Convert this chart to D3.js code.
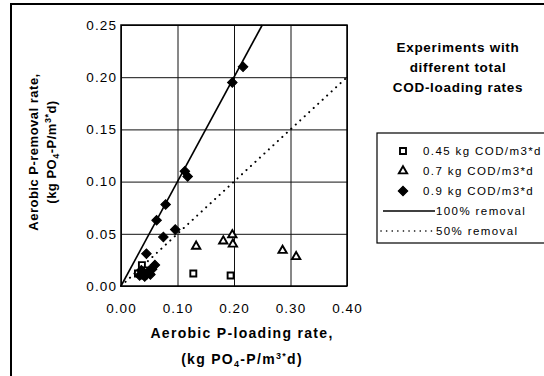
<!DOCTYPE html>
<html>
<head>
<meta charset="utf-8">
<script src="https://cdn.jsdelivr.net/npm/d3@7"></script>
<style>
  body { margin: 0; background: #fff; }
  svg { display: block; }
  text { font-family: "Liberation Sans", Arial, sans-serif; fill: #000; }
  .tick-label { font-size: 13.5px; letter-spacing: 1.1px; }
  .title { font-size: 13.5px; font-weight: bold; letter-spacing: 0.7px; }
  .axis-title { font-size: 14px; font-weight: bold; letter-spacing: 1.3px; }
  .y-title { font-size: 13px; font-weight: bold; letter-spacing: 0.5px; }
  .legend-text { font-size: 11.5px; letter-spacing: 1.4px; }
</style>
</head>
<body>
<div id="chart"></div>
<script>
// series: [P-loading, P-removal]
var cod045 = [[0.037, 0.020], [0.030, 0.012], [0.040, 0.010], [0.046, 0.015],
              [0.128, 0.012], [0.194, 0.010]];
var cod07 = [[0.040, 0.012], [0.050, 0.014], [0.133, 0.038], [0.181, 0.043],
             [0.197, 0.049], [0.198, 0.040], [0.286, 0.034], [0.310, 0.028]];
var cod09 = [[0.033, 0.010], [0.036, 0.015], [0.038, 0.012], [0.042, 0.009],
             [0.047, 0.013], [0.052, 0.011], [0.055, 0.016], [0.060, 0.020],
             [0.045, 0.031], [0.075, 0.047], [0.063, 0.063], [0.079, 0.078],
             [0.096, 0.054], [0.113, 0.110], [0.118, 0.105], [0.197, 0.195],
             [0.216, 0.210]];
var removal100 = [[0, 0], [0.25, 0.25]];
var removal50 = [[0, 0], [0.40, 0.20]];

var xTicks = [0, 0.1, 0.2, 0.3, 0.4];
var yTicks = [0, 0.05, 0.1, 0.15, 0.2, 0.25];
var legendTitle = ["Experiments with", "different total", "COD-loading rates"];
var legendLabels = ["0.45 kg COD/m3*d", "0.7 kg COD/m3*d", "0.9 kg COD/m3*d", "100% removal", "50% removal"];

var width = 544, height = 376;
var margin = {left: 121, top: 25, right: 197, bottom: 90};
var chartWidth = width - margin.left - margin.right;
var chartHeight = height - margin.top - margin.bottom;

var svg = d3.select("#chart").append("svg")
    .attr("width", width)
    .attr("height", height);

// outer frame of the scanned figure
svg.append("rect")
    .attr("x", 11).attr("y", 4)
    .attr("width", 600).attr("height", 400)
    .attr("fill", "none").attr("stroke", "#000").attr("stroke-width", 2);

var chartGroup = svg.append("g")
    .attr("transform", `translate(${margin.left}, ${margin.top})`);

var xScale = d3.scaleLinear().domain([0, 0.4]).range([0, chartWidth]);
var yScale = d3.scaleLinear().domain([0, 0.25]).range([chartHeight, 0]);

// grid
chartGroup.append("g")
    .call(d3.axisBottom(xScale).tickValues(xTicks).tickSize(chartHeight).tickFormat(""))
    .call(g => g.select(".domain").remove())
    .selectAll("line").attr("stroke", "#111").attr("stroke-width", 1);
chartGroup.append("g")
    .attr("transform", `translate(${chartWidth}, 0)`)
    .call(d3.axisLeft(yScale).tickValues(yTicks).tickSize(chartWidth).tickFormat(""))
    .call(g => g.select(".domain").remove())
    .selectAll("line").attr("stroke", "#111").attr("stroke-width", 1);

chartGroup.append("rect")
    .attr("width", chartWidth).attr("height", chartHeight)
    .attr("fill", "none").attr("stroke", "#000").attr("stroke-width", 1.5);

// tick labels
var leftAxis = chartGroup.append("g")
    .call(d3.axisLeft(yScale).tickValues(yTicks).tickSize(0).tickPadding(4).tickFormat(d3.format(".2f")));
var bottomAxis = chartGroup.append("g")
    .attr("transform", `translate(0, ${chartHeight})`)
    .call(d3.axisBottom(xScale).tickValues(xTicks).tickSize(0).tickPadding(17).tickFormat(d3.format(".2f")));
[leftAxis, bottomAxis].forEach(function(ax) {
    ax.select(".domain").remove();
    ax.selectAll("text").attr("class", "tick-label").attr("font-family", null).attr("font-size", null);
    ax.attr("font-family", null).attr("font-size", null);
});

// reference lines
var line = d3.line().x(d => xScale(d[0])).y(d => yScale(d[1]));
chartGroup.append("path").datum(removal100)
    .attr("d", line).attr("fill", "none").attr("stroke", "#000").attr("stroke-width", 1.6);
chartGroup.append("path").datum(removal50)
    .attr("d", line).attr("fill", "none").attr("stroke", "#000").attr("stroke-width", 2)
    .attr("stroke-linecap", "round").attr("stroke-dasharray", "0.1,6");

// markers
var square = d3.symbol().type(d3.symbolSquare).size(36);
var triangle = d3.symbol().type(d3.symbolTriangle).size(30);
var diamond = d3.symbol().type(d3.symbolSquare).size(46);

function drawPoints(data, sym, filled) {
    chartGroup.append("g").selectAll("path")
        .data(data).enter().append("path")
        .attr("transform", d => `translate(${xScale(d[0])}, ${yScale(d[1])})` + (filled ? " rotate(45)" : ""))
        .attr("d", sym)
        .attr("fill", filled ? "#000" : "#fff")
        .attr("stroke", "#000")
        .attr("stroke-width", filled ? 1 : 1.9);
}
drawPoints(cod045, square, false);
drawPoints(cod07, triangle, false);
drawPoints(cod09, diamond, true);

// axis titles
function unitTitle(t) {
    t.append("tspan").text("(kg PO");
    t.append("tspan").attr("font-size", "9px").attr("dy", 3).text("4");
    t.append("tspan").attr("dy", -3).text("-P/m");
    t.append("tspan").attr("font-size", "9px").attr("dy", -5).text("3");
    t.append("tspan").attr("font-size", "9px").text("*");
    t.append("tspan").attr("dy", 5).text("d)");
}
svg.append("text").attr("class", "axis-title")
    .attr("text-anchor", "middle").attr("x", 242).attr("y", 338)
    .text("Aerobic P-loading rate,");
unitTitle(svg.append("text").attr("class", "axis-title")
    .attr("text-anchor", "middle").attr("x", 242).attr("y", 364));

var yTitle = svg.append("g").attr("transform", "translate(38, 152) rotate(-90)");
yTitle.append("text").attr("class", "y-title").attr("text-anchor", "middle").attr("y", 0)
    .text("Aerobic P-removal rate,");
unitTitle(yTitle.append("text").attr("class", "y-title").attr("text-anchor", "middle").attr("y", 18));

// legend
svg.append("g").selectAll("text")
    .data(legendTitle).enter().append("text")
    .attr("class", "title")
    .attr("text-anchor", "middle")
    .attr("x", 458)
    .attr("y", (d, i) => 52 + i * 20)
    .text(d => d);

var legend = svg.append("g");
legend.append("rect")
    .attr("x", 377).attr("y", 133).attr("width", 200).attr("height", 110)
    .attr("fill", "none").attr("stroke", "#000").attr("stroke-width", 1.2);

var rowY = [151, 171, 191, 211, 231];
var rowSymbols = [square, triangle, diamond];
rowSymbols.forEach(function(sym, i) {
    legend.append("path")
        .attr("transform", `translate(403, ${rowY[i]})` + (i === 2 ? " rotate(45)" : ""))
        .attr("d", sym)
        .attr("fill", i === 2 ? "#000" : "#fff")
        .attr("stroke", "#000")
        .attr("stroke-width", i === 2 ? 1 : 1.9);
});
legend.append("line").attr("x1", 383).attr("x2", 435).attr("y1", rowY[3]).attr("y2", rowY[3])
    .attr("stroke", "#000").attr("stroke-width", 1.6);
legend.append("line").attr("x1", 381).attr("x2", 433).attr("y1", rowY[4]).attr("y2", rowY[4])
    .attr("stroke", "#000").attr("stroke-width", 1.6).attr("stroke-linecap", "round")
    .attr("stroke-dasharray", "0.1,5.5");

legend.selectAll("text.legend-text")
    .data(legendLabels).enter().append("text")
    .attr("class", "legend-text")
    .attr("x", (d, i) => i < 3 ? 423 : 436)
    .attr("y", (d, i) => rowY[i] + 4)
    .text(d => d);
</script>
</body>
</html>
